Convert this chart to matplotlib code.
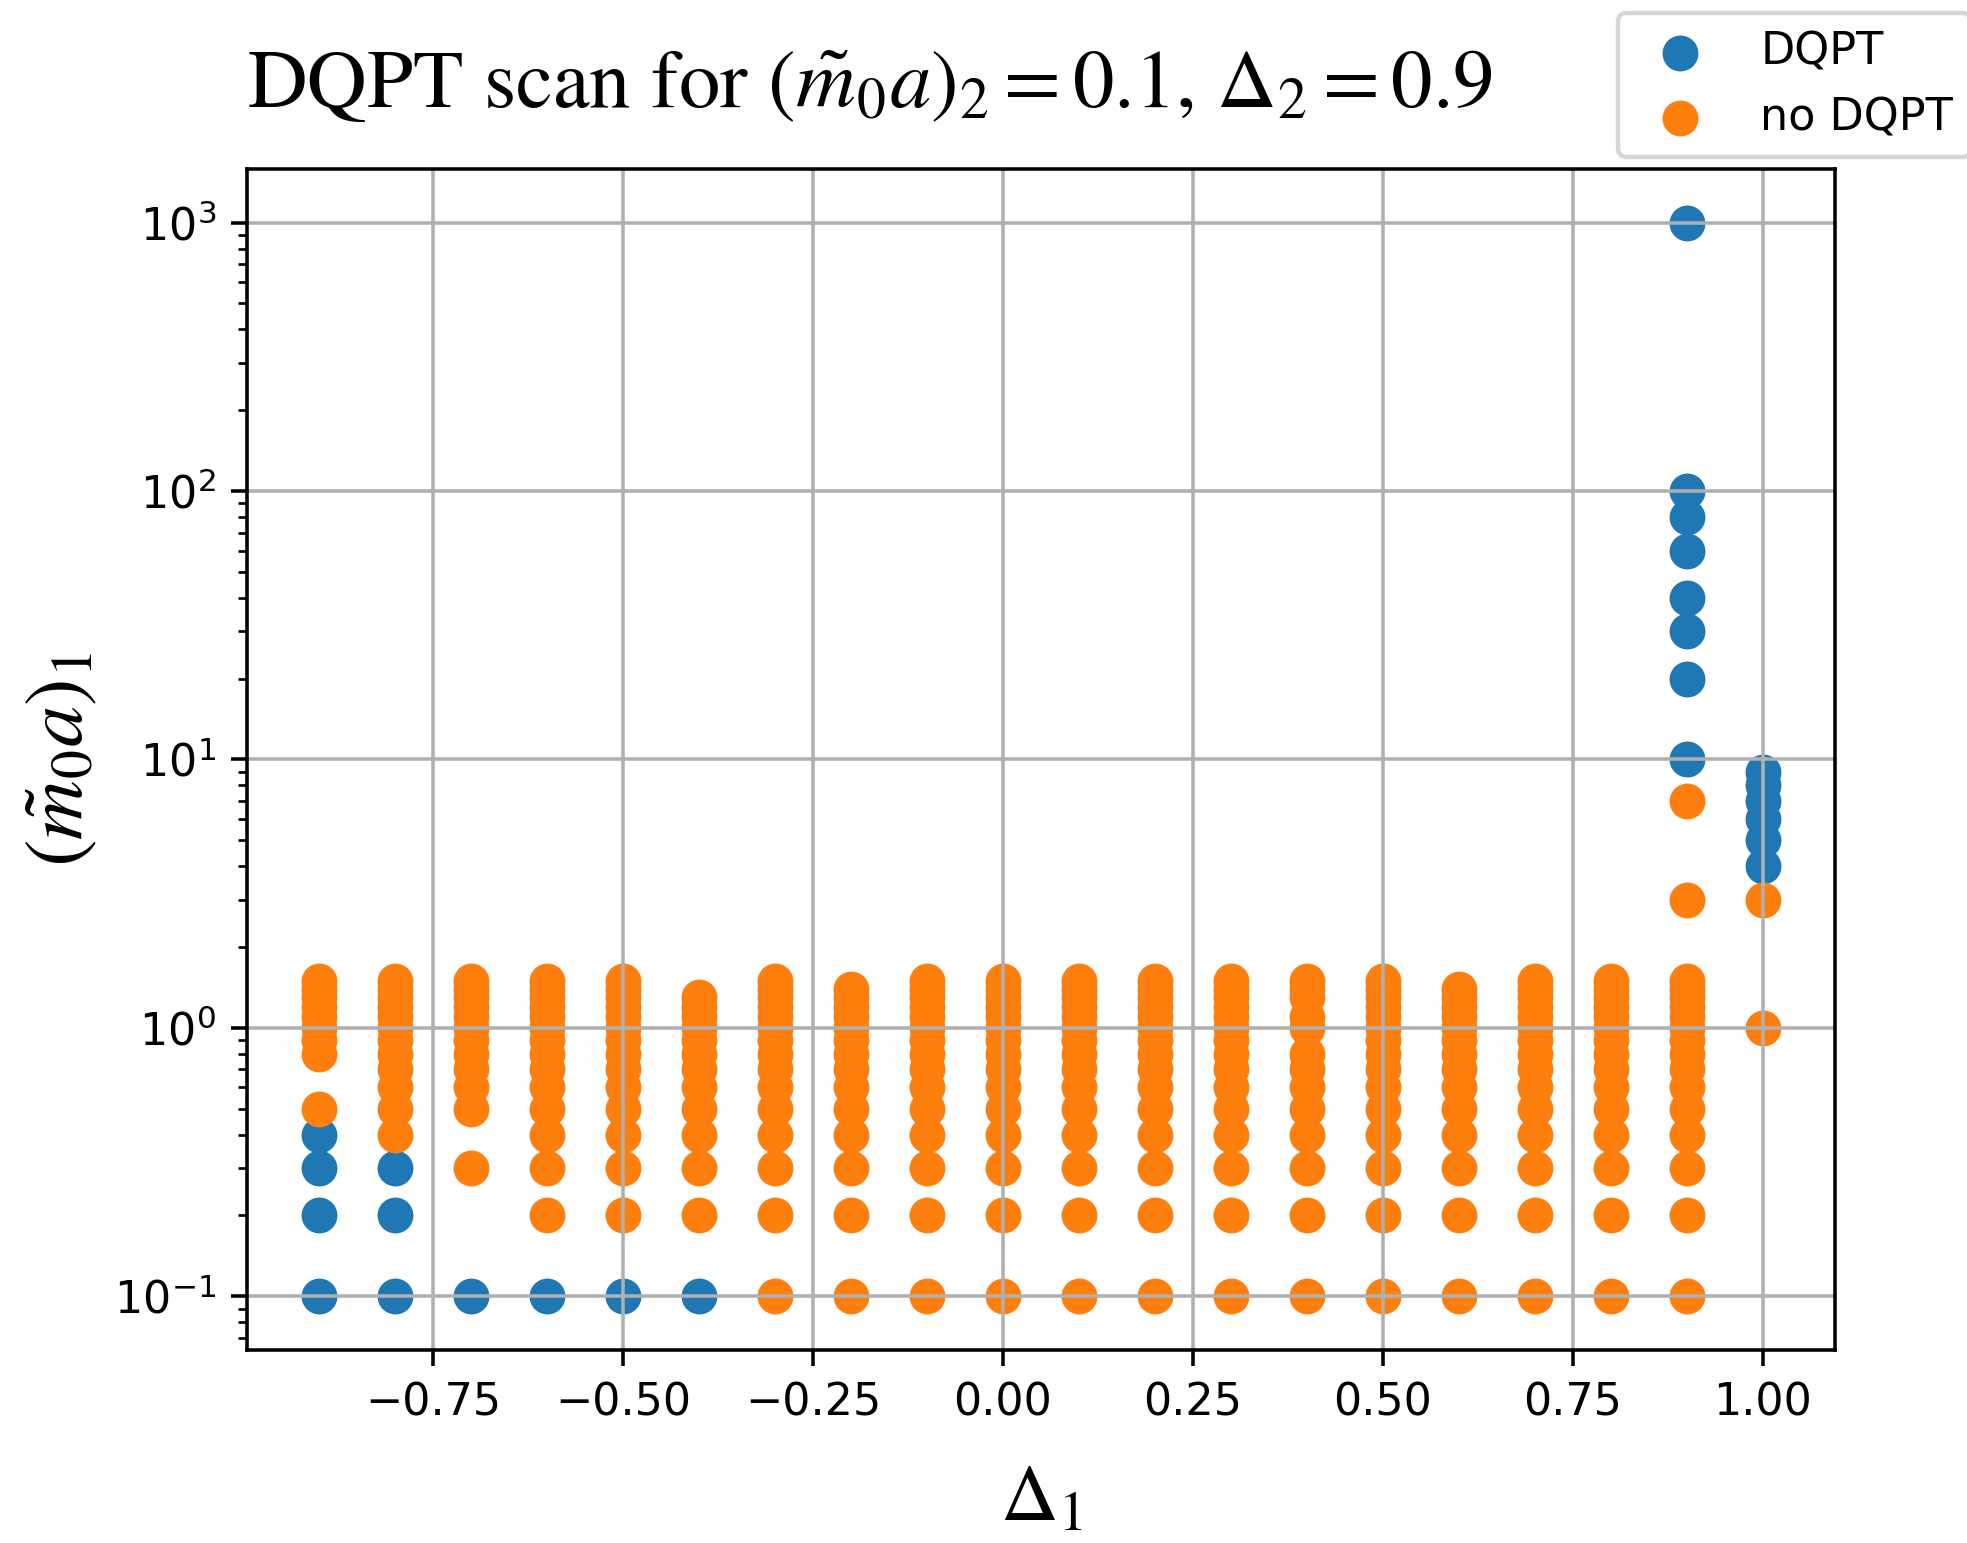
import numpy as np
import matplotlib
matplotlib.use("Agg")
import matplotlib.pyplot as plt

# Delta_1 columns of the scan
delta1 = [-0.9, -0.8, -0.7, -0.6, -0.5, -0.4, -0.3, -0.2, -0.1, 0.0,
          0.1, 0.2, 0.3, 0.4, 0.5, 0.6, 0.7, 0.8, 0.9, 1.0]

# (m0 a)_1 values where a DQPT was found, one list per column
dqpt_m = [
    [0.1, 0.2, 0.3, 0.4],
    [0.1, 0.2, 0.3],
    [0.1],
    [0.1],
    [0.1],
    [0.1],
    [], [], [], [], [], [], [], [], [], [], [], [],
    [10, 20, 30, 40, 60, 80, 100, 1000],
    [4, 5, 6, 7, 8, 9],
]

# (m0 a)_1 values without DQPT, one list per column
no_dqpt_m = [
    [0.5, 0.8, 0.9, 1.0, 1.1, 1.2, 1.3, 1.4, 1.5],
    [0.4, 0.5, 0.6, 0.7, 0.8, 0.9, 1.0, 1.1, 1.2, 1.3, 1.4, 1.5],
    [0.3, 0.5, 0.6, 0.7, 0.8, 0.9, 1.0, 1.1, 1.2, 1.3, 1.4, 1.5],
    [0.2, 0.3, 0.4, 0.5, 0.6, 0.7, 0.8, 0.9, 1.0, 1.1, 1.2, 1.3, 1.4, 1.5],
    [0.2, 0.3, 0.4, 0.5, 0.6, 0.7, 0.8, 0.9, 1.0, 1.1, 1.2, 1.3, 1.4, 1.5],
    [0.2, 0.3, 0.4, 0.5, 0.6, 0.7, 0.8, 0.9, 1.0, 1.1, 1.2, 1.3],
    [0.1, 0.2, 0.3, 0.4, 0.5, 0.6, 0.7, 0.8, 0.9, 1.0, 1.1, 1.2, 1.3, 1.4, 1.5],
    [0.1, 0.2, 0.3, 0.4, 0.5, 0.6, 0.7, 0.8, 0.9, 1.0, 1.1, 1.2, 1.3, 1.4],
    [0.1, 0.2, 0.3, 0.4, 0.5, 0.6, 0.7, 0.8, 0.9, 1.0, 1.1, 1.2, 1.3, 1.4, 1.5],
    [0.1, 0.2, 0.3, 0.4, 0.5, 0.6, 0.7, 0.8, 0.9, 1.0, 1.1, 1.2, 1.3, 1.4, 1.5],
    [0.1, 0.2, 0.3, 0.4, 0.5, 0.6, 0.7, 0.8, 0.9, 1.0, 1.1, 1.2, 1.3, 1.4, 1.5],
    [0.1, 0.2, 0.3, 0.4, 0.5, 0.6, 0.7, 0.8, 0.9, 1.0, 1.1, 1.2, 1.3, 1.4, 1.5],
    [0.1, 0.2, 0.3, 0.4, 0.5, 0.6, 0.7, 0.8, 0.9, 1.0, 1.1, 1.2, 1.3, 1.4, 1.5],
    [0.1, 0.2, 0.3, 0.4, 0.5, 0.6, 0.7, 0.8, 1.0, 1.1, 1.3, 1.4, 1.5],
    [0.1, 0.2, 0.3, 0.4, 0.5, 0.6, 0.7, 0.8, 0.9, 1.0, 1.1, 1.2, 1.3, 1.4, 1.5],
    [0.1, 0.2, 0.3, 0.4, 0.5, 0.6, 0.7, 0.8, 0.9, 1.0, 1.1, 1.2, 1.3, 1.4],
    [0.1, 0.2, 0.3, 0.4, 0.5, 0.6, 0.7, 0.8, 0.9, 1.0, 1.1, 1.2, 1.3, 1.4, 1.5],
    [0.1, 0.2, 0.3, 0.4, 0.5, 0.6, 0.7, 0.8, 0.9, 1.0, 1.1, 1.2, 1.3, 1.4, 1.5],
    [0.1, 0.2, 0.3, 0.4, 0.5, 0.6, 0.7, 0.8, 0.9, 1.0, 1.1, 1.2, 1.3, 1.4, 1.5, 3, 7],
    [1, 3],
]

labels = ["DQPT", "no DQPT"]

# flatten columns into x/y arrays for scatter
x_dqpt = [d for d, ms in zip(delta1, dqpt_m) for m in ms]
y_dqpt = [m for ms in dqpt_m for m in ms]
x_no = [d for d, ms in zip(delta1, no_dqpt_m) for m in ms]
y_no = [m for ms in no_dqpt_m for m in ms]

dpi = 320
fig = plt.figure(figsize=(1967 / dpi, 1543 / dpi), dpi=dpi)
ax = fig.add_axes([0.1256, 0.1251, 0.9329 - 0.1256, 0.8905 - 0.1251])

ax.scatter(x_dqpt, y_dqpt, s=50, label=labels[0])
ax.scatter(x_no, y_no, s=50, label=labels[1])
ax.set_yscale("log")
ax.grid(True)

serif = dict(family="STIXGeneral", math_fontfamily="stix")
ax.set_title(r"DQPT scan for $(\tilde{m}_0 a)_2 = 0.1$, $\Delta_2 = 0.9$",
             loc="left", pad=14, fontsize=18.6, **serif)
ax.set_xlabel(r"$\Delta_1$", labelpad=9, fontsize=18, **serif)
ax.set_ylabel(r"$(\tilde{m}_0 a)_1$", labelpad=3, fontsize=18.5, **serif)

fig.legend(loc="upper left", bbox_to_anchor=(1618 / 1967, 1 - 13 / 1543),
           borderaxespad=0)

fig.savefig("out.png", dpi=dpi)
